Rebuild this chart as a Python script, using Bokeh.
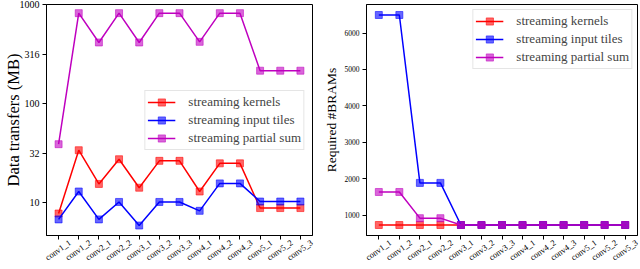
import math
from bokeh.plotting import figure
from bokeh.models import (Range1d, FixedTicker, Legend, LegendItem,
                          LinearAxis, ColumnDataSource)
from bokeh.layouts import row
from bokeh.embed import file_html
from bokeh.resources import INLINE

layers = ["conv1_1", "conv1_2", "conv2_1", "conv2_2", "conv3_1", "conv3_2",
          "conv3_3", "conv4_1", "conv4_2", "conv4_3", "conv5_1", "conv5_2",
          "conv5_3"]
series_names = ["streaming kernels", "streaming input tiles",
                "streaming partial sum"]

# Left panel: data transfers (MB), log scale
transfer_kernels = [7.8, 33.9, 15.5, 27.5, 14.2, 26.5, 26.5, 13.0, 25.0, 25.0,
                    8.85, 8.85, 8.85]
transfer_tiles = [6.8, 13.0, 6.8, 10.2, 5.9, 10.2, 10.2, 8.3, 15.7, 15.7,
                  10.3, 10.3, 10.3]
transfer_psum = [39, 818, 414, 818, 414, 818, 818, 420, 818, 818, 215, 215,
                 215]
transfer_ticks = [10, 31.62, 100, 316.2, 1000]
transfer_tick_labels = ["10", "32", "100", "316", "1000"]

# Right panel: required #BRAMs
bram_kernels = [731, 731, 731, 731, 731, 731, 731, 731, 731, 731, 731, 731,
                731]
bram_tiles = [6495, 6495, 1887, 1887, 731, 731, 731, 731, 731, 731, 731, 731,
              731]
bram_psum = [1637, 1637, 919, 919, 731, 731, 731, 731, 731, 731, 731, 731,
             731]
bram_ticks = [1000, 2000, 3000, 4000, 5000, 6000]

colors = ["#ff0000", "#0000ff", "#bf00bf"]
SERIF = "Liberation Serif"
LABEL_SHIFT = 0.57   # centres the rotated category label under its tick


def make_panel(width, border_left, border_right, y_type, y_range, series,
               ticks, tick_labels, tick_font_size, ylabel, ylabel_size,
               ylabel_standoff, legend_loc, legend_margin):
    p = figure(width=width, height=269, output_backend="svg",
               toolbar_location=None, y_axis_type=y_type,
               x_range=Range1d(-0.6, 12.6), y_range=y_range,
               min_border_left=border_left, min_border_right=border_right,
               min_border_top=4, min_border_bottom=10)
    p.xgrid.visible = False
    p.ygrid.visible = False
    p.outline_line_color = "black"
    p.outline_line_width = 1
    p.background_fill_color = "white"
    p.border_fill_color = "white"

    xs = list(range(len(layers)))
    # tick marks only
    xa = p.xaxis[0]
    xa.ticker = FixedTicker(ticks=xs, minor_ticks=[])
    xa.major_label_overrides = {i: "" for i in xs}
    xa.major_label_text_font_size = "1px"
    xa.major_label_text_color = None
    xa.major_label_standoff = 0
    # rotated category labels
    shifted = [i + LABEL_SHIFT for i in xs]
    la = LinearAxis(ticker=FixedTicker(ticks=shifted, minor_ticks=[]),
                    major_label_overrides={t: n for t, n in zip(shifted, layers)},
                    axis_line_color=None, major_tick_line_color=None,
                    minor_tick_line_color=None, major_tick_out=0,
                    major_tick_in=0, major_label_standoff=2,
                    major_label_orientation=math.radians(35),
                    major_label_text_font=SERIF,
                    major_label_text_font_size="8.5px",
                    major_label_text_color="black")
    p.add_layout(la, "below")

    ya = p.yaxis[0]
    ya.ticker = FixedTicker(ticks=ticks, minor_ticks=[])
    ya.major_label_overrides = {t: lab for t, lab in zip(ticks, tick_labels)}
    for ax in (xa, ya):
        ax.major_tick_out = 4
        ax.major_tick_in = 0
        ax.minor_tick_line_color = None
        ax.axis_line_color = "black"
        ax.major_tick_line_color = "black"
    ya.major_label_text_font = SERIF
    ya.major_label_standoff = 3
    ya.major_label_text_font_size = tick_font_size
    ya.major_label_text_color = "black"
    ya.axis_label = ylabel
    ya.axis_label_text_font = SERIF
    ya.axis_label_text_font_style = "normal"
    ya.axis_label_text_font_size = ylabel_size
    ya.axis_label_text_color = "black"
    ya.axis_label_standoff = ylabel_standoff

    items = []
    for name, vals, color in zip(series_names, series, colors):
        src = ColumnDataSource(dict(x=xs, y=vals))
        ln = p.line("x", "y", source=src, line_color=color, line_width=1.5)
        sc = p.scatter("x", "y", source=src, marker="square", size=7,
                       fill_color=color, fill_alpha=0.6, line_color=color,
                       line_alpha=0.55, line_width=1)
        items.append(LegendItem(label=name, renderers=[ln, sc]))

    leg = Legend(items=items, location=legend_loc,
                 label_text_font=SERIF, label_text_font_size="13px",
                 glyph_width=28, glyph_height=18, label_height=18,
                 spacing=0, padding=2, label_standoff=13,
                 margin=legend_margin,
                 border_line_color="#cccccc", border_line_width=1,
                 background_fill_color="white", background_fill_alpha=0.8)
    p.add_layout(leg)
    return p


p1 = make_panel(318, 40, 6, "log", Range1d(4.68, 1000),
                [transfer_kernels, transfer_tiles, transfer_psum],
                transfer_ticks, transfer_tick_labels, "10px",
                "Data transfers (MB)", "16.5px", -6, "center_right", 8)

p2 = make_panel(322, 48, 3, "linear", Range1d(443, 6783),
                [bram_kernels, bram_tiles, bram_psum],
                bram_ticks, [str(t) for t in bram_ticks], "7.5px",
                "Required #BRAMs", "13.5px", 3, "top_right", 5)

layout = row(p1, p2)

open("out.html", "w").write(file_html(layout, INLINE))
